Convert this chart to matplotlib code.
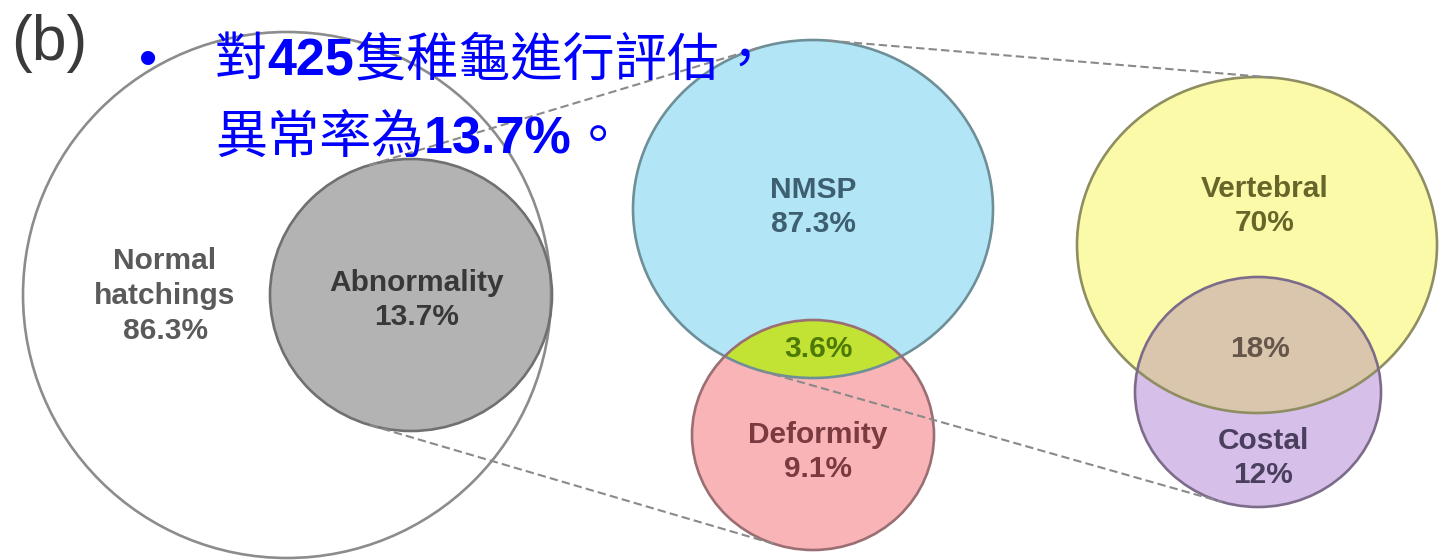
import matplotlib
matplotlib.use("Agg")

import numpy as np
import matplotlib.pyplot as plt
from matplotlib.patches import Ellipse

plt.rcParams['font.family'] = ['Liberation Sans', 'Noto Sans CJK TC', 'DejaVu Sans']

# ---- data ----
n_hatchlings = 425
group_labels = ["Normal\nhatchings", "Abnormality", "NMSP", "Deformity", "Vertebral", "Costal"]
group_values = [86.3, 13.7, 87.3, 9.1, 70, 12]
overlap_values = [3.6, 18]          # NMSP∩Deformity, Vertebral∩Costal
panel_tag = "(b)"
# title runs: (text, bold)
title_runs = [
    [("對", False), (f"{n_hatchlings}", True), ("隻稚龜進行評估，", False)],
    [("異常率為", False), (f"{group_values[1]}%", True), ("。", False)],
]

# ---- layout (pixel space, y down) ----
# centre x, centre y, rx, ry
shapes = [
    (287, 295, 264, 263),   # normal hatchings
    (411, 295, 141, 136),   # abnormality
    (813, 209, 180, 169),   # NMSP
    (813, 435, 121, 115),   # deformity
    (1257, 245, 180, 168),  # vertebral
    (1258, 392, 123, 115),  # costal
]
fills = ["#ffffff", "#b3b3b3", "#b2e5f6", "#f9b4b8", "#fbfaa9", "#d6bfe9"]
edges = ["#8c8c8c", "#707070", "#6e8f98", "#9a6e72", "#8e8e62", "#7c6c8a"]
lens_fills = ["#c2e234", "#d9c6ad"]
text_colors = ["#5a5a5a", "#383838", "#3d5f70", "#7a3a3f", "#66662a", "#4b3f5e"]
overlap_colors = ["#4d7a05", "#65554a"]
label_pos = [(165, 296), (417, 300), (813, 207), (818, 452), (1265, 206), (1263, 458)]
overlap_pos = [(818, 349), (1260, 349)]


def support(e, th):
    cx, cy, rx, ry = e
    nx, ny = np.cos(th), np.sin(th)
    s = np.sqrt((rx * nx) ** 2 + (ry * ny) ** 2)
    return nx * cx + ny * cy + s, (cx + rx ** 2 * nx / s, cy + ry ** 2 * ny / s)


def tangent(e1, e2, side):
    # outer common tangent, side=-1 -> top, +1 -> bottom
    base = side * np.pi / 2
    ths = base + np.linspace(-1.2, 1.2, 4801)
    f = np.array([support(e1, t)[0] - support(e2, t)[0] for t in ths])
    idx = np.where(np.sign(f[:-1]) != np.sign(f[1:]))[0]
    i = idx[np.argmin(np.abs(ths[idx] - base))]
    t = ths[i] - f[i] * (ths[i + 1] - ths[i]) / (f[i + 1] - f[i])
    return support(e1, t)[1], support(e2, t)[1]


fig = plt.figure(figsize=(14.39, 5.6), dpi=100)
ax = fig.add_axes([0, 0, 1, 1])
ax.set_xlim(0, 1439)
ax.set_ylim(560, 0)
ax.axis("off")

patches = []
for (cx, cy, rx, ry), fc in zip(shapes, fills):
    p = Ellipse((cx, cy), 2 * rx, 2 * ry, fc=fc, ec="none", zorder=1)
    ax.add_patch(p)
    patches.append(p)

# overlaps: lower circle clipped by upper one
for (a, b), fc in zip([(2, 3), (4, 5)], lens_fills):
    cx, cy, rx, ry = shapes[b]
    lens = Ellipse((cx, cy), 2 * rx, 2 * ry, fc=fc, ec="none", zorder=2)
    ax.add_patch(lens)
    lens.set_clip_path(patches[a])

for (cx, cy, rx, ry), ec in zip(shapes, edges):
    ax.add_patch(Ellipse((cx, cy), 2 * rx, 2 * ry, fill=False, ec=ec, lw=1.9, zorder=3))

# zoom-in guide lines
for a, b, side in [(1, 2, -1), (1, 3, 1), (2, 4, -1), (2, 5, 1)]:
    p1, p2 = tangent(shapes[a], shapes[b], side)
    ax.plot([p1[0], p2[0]], [p1[1], p2[1]], color="#8a8a8a", lw=1.5,
            ls=(0, (4, 2)), zorder=4)

lab_kw = dict(ha="center", va="center", fontsize=21.5, fontweight="bold",
              linespacing=1.3, zorder=5)
for lab, val, (x, y), c in zip(group_labels, group_values, label_pos, text_colors):
    ax.text(x, y, f"{lab}\n{val:g}%", color=c, **lab_kw)
for val, (x, y), c in zip(overlap_values, overlap_pos, overlap_colors):
    ax.text(x, y, f"{val:g}%", color=c, **lab_kw)

ax.text(11, 60, panel_tag, fontsize=45, color="#3a3a3a", ha="left", va="baseline", zorder=6)
ax.text(148, 75, "•", fontsize=37.5, color="#0000ff", ha="center", va="baseline", zorder=6)

renderer = fig.canvas.get_renderer()
inv = ax.transData.inverted()
for runs, y in zip(title_runs, [75, 153]):
    x = 215
    for s, bold in runs:
        t = ax.text(x, y, s, fontsize=37.5, color="#0000ff", ha="left", va="baseline",
                    fontweight="bold" if bold else "normal", zorder=6)
        bb = t.get_window_extent(renderer)
        x = inv.transform((bb.x1, bb.y0))[0]

fig.savefig("out.png", dpi=100)
